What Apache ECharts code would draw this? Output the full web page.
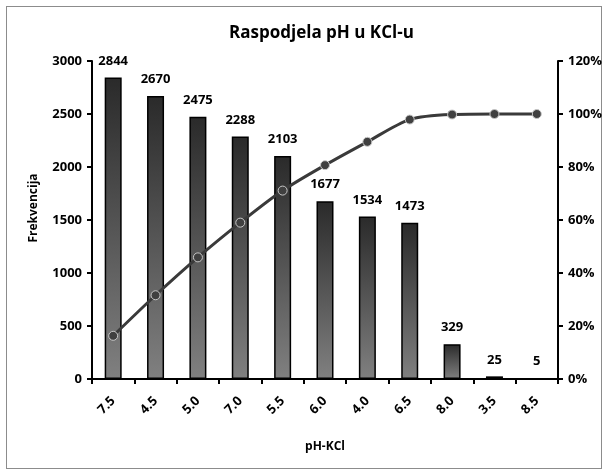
<!DOCTYPE html>
<html>
  <head>
    <meta charset="utf-8" />
    <title>Raspodjela pH u KCl-u</title>
    <style>
      html, body { margin: 0; padding: 0; background: #fff; }
      #frame {
        position: absolute; left: 6px; top: 6px;
        width: 594px; height: 461px;
        border: 1px solid #8c8c8c;
      }
      #chart { position: absolute; left: 0; top: 0; width: 608px; height: 476px; }
    </style>
  </head>
  <body>
    <script type="text/javascript" src="https://cdn.jsdelivr.net/npm/echarts@6/dist/echarts.min.js"></script>
    <div id="frame"></div>
    <div id="chart"></div>
    <script type="text/javascript">
      var categories = ["7.5", "4.5", "5.0", "7.0", "5.5", "6.0", "4.0", "6.5", "8.0", "3.5", "8.5"];
      var frequency = [2844, 2670, 2475, 2288, 2103, 1677, 1534, 1473, 329, 25, 5];
      // kumulativni postotak (%)
      var cumulative = [16.3, 31.6, 45.9, 59.0, 71.1, 80.7, 89.5, 97.9, 99.8, 100.0, 100.0];

      var font = "'Open Sans', sans-serif";
      var myChart = echarts.init(document.getElementById("chart"));

      var option = {
        animation: false,
        textStyle: { fontFamily: font },
        title: {
          text: "Raspodjela pH u KCl-u",
          left: 224,
          top: 20,
          textStyle: { color: "#000", fontSize: 17, fontWeight: "bold", fontFamily: font },
        },
        grid: { left: 92, right: 50, top: 61, bottom: 97 },
        xAxis: {
          type: "category",
          data: categories,
          name: "pH-KCl",
          nameLocation: "middle",
          nameGap: 62,
          nameTextStyle: { color: "#000", fontSize: 12, fontWeight: "bold" },
          axisLine: { lineStyle: { color: "#000", width: 2 } },
          axisTick: { show: true, length: 5, lineStyle: { color: "#000", width: 2 } },
          axisLabel: { rotate: 45, margin: 20, color: "#000", fontSize: 13, fontWeight: "bold" },
        },
        yAxis: [
          {
            type: "value",
            min: 0,
            max: 3000,
            interval: 500,
            name: "Frekvencija",
            nameLocation: "middle",
            nameGap: 52,
            nameTextStyle: { color: "#000", fontSize: 12, fontWeight: "bold", padding: [0, 0, 0, 24] },
            axisLine: { show: true, lineStyle: { color: "#000", width: 2 } },
            axisTick: { show: true, length: 5, lineStyle: { color: "#000", width: 2 } },
            axisLabel: {
              margin: 10, color: "#000", fontSize: 13, fontWeight: "bold",
              formatter: function (v) { return String(v); },
            },
            splitLine: { show: false },
          },
          {
            type: "value",
            min: 0,
            max: 120,
            interval: 20,
            axisLine: { show: true, lineStyle: { color: "#000", width: 2 } },
            axisTick: { show: true, length: 5, lineStyle: { color: "#000", width: 2 } },
            axisLabel: { margin: 10, color: "#000", fontSize: 13, fontWeight: "bold", formatter: "{value}%" },
            splitLine: { show: false },
          },
        ],
        series: [
          {
            name: "Frekvencija",
            type: "bar",
            data: frequency,
            barWidth: 17,
            itemStyle: {
              color: new echarts.graphic.LinearGradient(0, 0, 0, 1, [
                { offset: 0, color: "#2a2a2a" },
                { offset: 1, color: "#808080" },
              ]),
              borderColor: "#000",
              borderWidth: 1.5,
            },
            label: {
              show: true,
              position: "top",
              distance: 10,
              color: "#000",
              fontSize: 13,
              fontWeight: "bold",
            },
          },
          {
            name: "Kumulativno",
            type: "line",
            yAxisIndex: 1,
            data: cumulative,
            smooth: 0.3,
            symbol: "circle",
            symbolSize: 9,
            lineStyle: { color: "#3a3a3a", width: 3 },
            itemStyle: { color: "#404040", borderColor: "#c8c8c8", borderWidth: 1 },
            z: 3,
          },
        ],
      };

      myChart.setOption(option);
    </script>
  </body>
</html>
